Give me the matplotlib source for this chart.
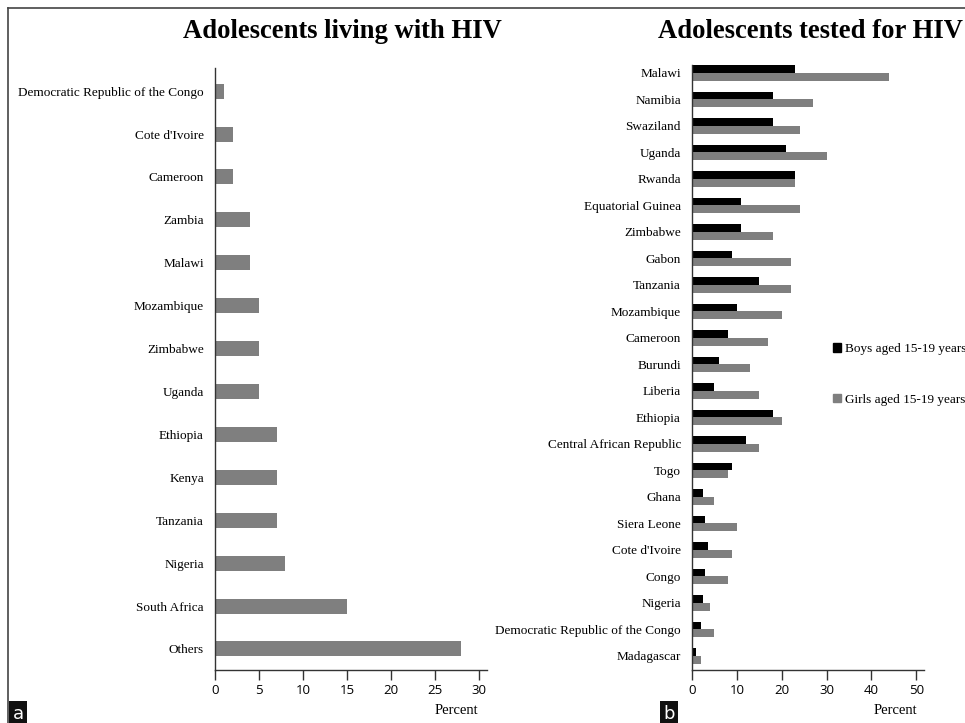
import matplotlib.pyplot as plt
import numpy as np
from matplotlib.lines import Line2D
from matplotlib.patches import Patch

plt.rcParams["font.family"] = ["Liberation Serif", "DejaVu Serif"]

# panel a: adolescents living with HIV (top to bottom)
living_countries = [
    "Democratic Republic of the Congo", "Cote d'Ivoire", "Cameroon", "Zambia",
    "Malawi", "Mozambique", "Zimbabwe", "Uganda", "Ethiopia", "Kenya",
    "Tanzania", "Nigeria", "South Africa", "Others",
]
living_pct = [1, 2, 2, 4, 4, 5, 5, 5, 7, 7, 7, 8, 15, 28]

# panel b: adolescents tested for HIV (top to bottom)
tested_countries = [
    "Malawi", "Namibia", "Swaziland", "Uganda", "Rwanda", "Equatorial Guinea",
    "Zimbabwe", "Gabon", "Tanzania", "Mozambique", "Cameroon", "Burundi",
    "Liberia", "Ethiopia", "Central African Republic", "Togo", "Ghana",
    "Siera Leone", "Cote d'Ivoire", "Congo", "Nigeria",
    "Democratic Republic of the Congo", "Madagascar",
]
boys_pct = [23, 18, 18, 21, 23, 11, 11, 9, 15, 10, 8, 6, 5, 18, 12, 9, 2.5,
            3, 3.5, 3, 2.5, 2, 1]
girls_pct = [44, 27, 24, 30, 23, 24, 18, 22, 22, 20, 17, 13, 15, 20, 15, 8, 5,
             10, 9, 8, 4, 5, 2]

GRAY = "#7f7f7f"
TICK_FONT = {"family": "Open Sans", "size": 9.5}

fig = plt.figure(figsize=(9.65, 7.23), dpi=100)


def style_axis(ax):
    for side in ("top", "right"):
        ax.spines[side].set_visible(False)
    for side in ("left", "bottom"):
        ax.spines[side].set_color("#333333")
        ax.spines[side].set_linewidth(1.0)
    ax.tick_params(axis="y", length=0, pad=8, labelsize=9.5)
    ax.tick_params(axis="x", length=7, width=1.0, color="#333333", pad=3)
    for lab in ax.get_xticklabels():
        lab.set_fontfamily(TICK_FONT["family"])
        lab.set_fontsize(TICK_FONT["size"])


# ---- panel a
ax1 = fig.add_axes([215 / 965, 1 - 670 / 723, 272 / 965, 602 / 723])
y1 = np.arange(len(living_countries))[::-1]
ax1.barh(y1, living_pct, height=0.35, color=GRAY)
ax1.set_yticks(y1)
ax1.set_yticklabels(living_countries)
ax1.set_xticks(range(0, 31, 5))
ax1.set_xlim(0, 30.9)
ax1.set_ylim(-0.49, len(living_countries) - 1 + 0.54)
style_axis(ax1)

# ---- panel b
ax2 = fig.add_axes([692 / 965, 1 - 670 / 723, 232 / 965, 605 / 723])
y2 = np.arange(len(tested_countries))[::-1]
h = 0.285
ax2.barh(y2 + h / 2, boys_pct, height=h, color="black", label="Boys aged 15-19 years")
ax2.barh(y2 - h / 2, girls_pct, height=h, color=GRAY, label="Girls aged 15-19 years")
ax2.set_yticks(y2)
ax2.set_yticklabels(tested_countries)
ax2.set_xticks(range(0, 51, 10))
ax2.set_xlim(0, 51.7)
ax2.set_ylim(-0.53, len(tested_countries) - 1 + 0.3)
style_axis(ax2)

leg = fig.legend(
    handles=[Patch(color="black"), Patch(color=GRAY)],
    labels=["Boys aged 15-19 years", "Girls aged 15-19 years"],
    loc="upper left", bbox_to_anchor=(833 / 965, 1 - 343 / 723),
    frameon=False, fontsize=9.5, handlelength=0.6, handleheight=0.6,
    handletextpad=0.3, labelspacing=2.95, borderaxespad=0, borderpad=0,
)

# titles and axis labels
fig.text(342 / 965, 1 - 31 / 723, "Adolescents living with HIV", ha="center",
         va="center", fontsize=19.2, fontweight="bold")
fig.text(810 / 965, 1 - 31 / 723, "Adolescents tested for HIV", ha="center",
         va="center", fontsize=19.2, fontweight="bold")
fig.text(456 / 965, 1 - 711 / 723, "Percent", ha="center", va="center", fontsize=10.5)
fig.text(895 / 965, 1 - 711 / 723, "Percent", ha="center", va="center", fontsize=10.5)

# outer frame (top and left edges visible)
fig.add_artist(Line2D([8 / 965, 1], [1 - 8 / 723] * 2, transform=fig.transFigure,
                      color="#444444", linewidth=1.2))
fig.add_artist(Line2D([8 / 965] * 2, [0, 1 - 8 / 723], transform=fig.transFigure,
                      color="#444444", linewidth=1.2))

# panel letters
for x0, letter in [(8, "a"), (659, "b")]:
    fig.text((x0 + 10) / 965, 1 - 714 / 723, letter, ha="center", va="center",
             color="white", fontsize=13, family="DejaVu Sans",
             bbox=dict(boxstyle="square,pad=0.2", facecolor="#111111", edgecolor="none"))

fig.savefig("out.png", dpi=100)
